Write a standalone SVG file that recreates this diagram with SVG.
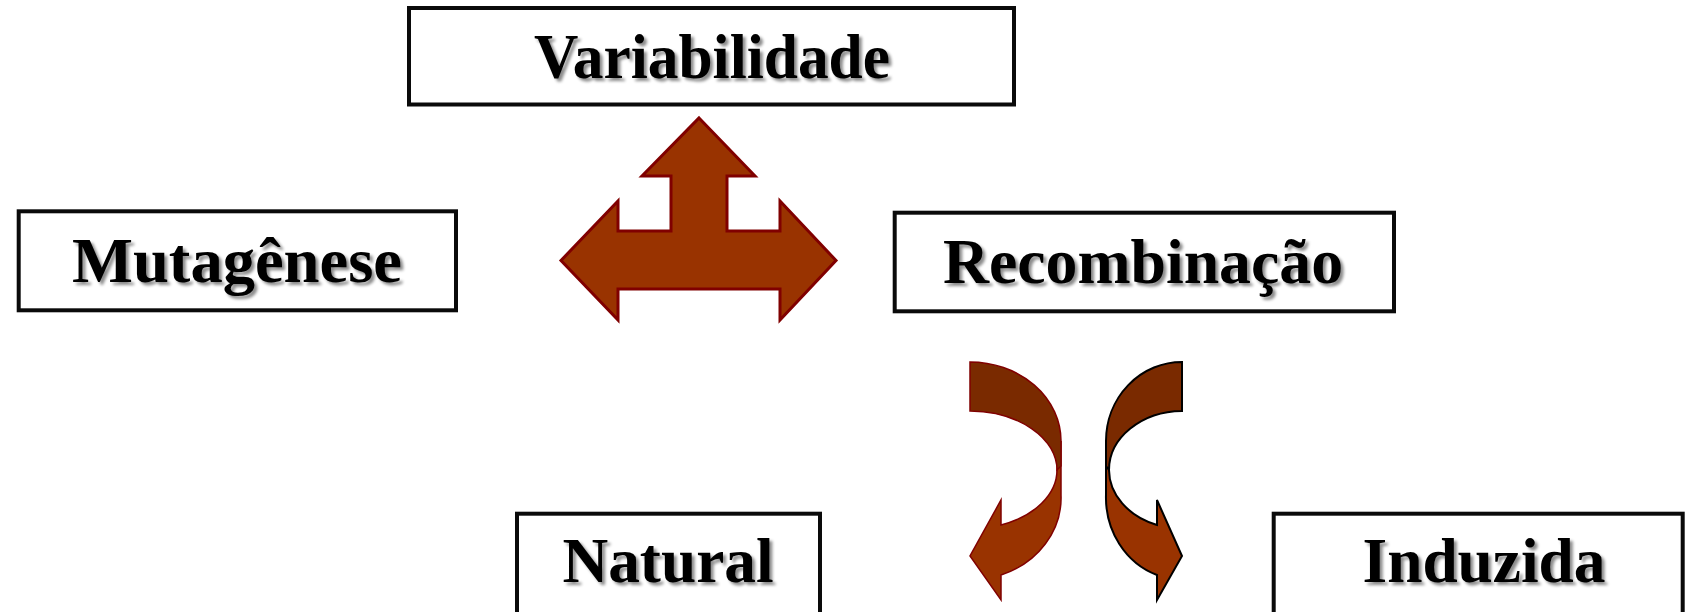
<svg xmlns="http://www.w3.org/2000/svg" width="1685" height="612" viewBox="0 0 1685 612">
  <defs>
    <filter id="txtShadow" x="-10%" y="-30%" width="120%" height="160%">
      <feDropShadow dx="3" dy="3" stdDeviation="1.6" flood-color="#000" flood-opacity="0.45"/>
    </filter>
  </defs>
  <style>
    .box { fill: #fff; stroke: #0a0a0a; stroke-width: 4; }
    .lbl { font-family: "Liberation Serif", "Times New Roman", serif; font-weight: bold; font-size: 63px; fill: #000; text-anchor: middle; filter: url(#txtShadow); }
    .tri { fill: #993300; stroke: #800000; stroke-width: 3; stroke-linejoin: miter; }
    .back { fill: #7a2a00; }
    .front { fill: #993300; }
    .curlL { stroke: #800000; stroke-width: 1.5; }
    .curlR { stroke: #000; stroke-width: 2; }
  </style>

  <g id="variabilidade">
    <rect class="box" x="409" y="8" width="605" height="96.5"/>
    <text class="lbl" x="712" y="78" textLength="356" lengthAdjust="spacingAndGlyphs">Variabilidade</text>
  </g>

  <g id="mutagenese">
    <rect class="box" x="18.7" y="211.3" width="437.3" height="99"/>
    <text class="lbl" x="237" y="282" textLength="330" lengthAdjust="spacingAndGlyphs">Mutagênese</text>
  </g>

  <g id="recombinacao">
    <rect class="box" x="894.7" y="212.7" width="499.3" height="98.6"/>
    <text class="lbl" x="1143" y="283" textLength="400" lengthAdjust="spacingAndGlyphs">Recombinação</text>
  </g>

  <g id="natural">
    <rect class="box" x="517" y="513.7" width="303" height="110"/>
    <text class="lbl" x="668" y="582" textLength="211" lengthAdjust="spacingAndGlyphs">Natural</text>
  </g>

  <g id="induzida">
    <rect class="box" x="1273.7" y="513.7" width="409" height="110"/>
    <text class="lbl" x="1484" y="582" textLength="243" lengthAdjust="spacingAndGlyphs">Induzida</text>
  </g>

  <g id="connectors">
    <!-- three-way arrow: up, left, right -->
    <path class="tri" d="M699,118 L755,176 L727,176 L727,231 L780,231 L780,201 L836,260.5 L780,320 L780,289 L618,289 L618,320 L561,260.5 L618,201 L618,231 L671,231 L671,176 L642,176 Z"/>

    <!-- curved arrow bending down to the left -->
    <path class="front curlL" d="M1061,441 L1061,495 A91,82 0 0 1 1001,575 L1001,600 L970,556 L1001,500 L1001,525 A88,59 0 0 0 1057,470 Z"/>
    <path class="back curlL" d="M970,362 A91,79 0 0 1 1061,441 L1061,466 L1057,470 A88,59 0 0 0 970,411 Z"/>

    <!-- curved arrow bending down to the right -->
    <path class="front curlR" d="M1106,441 L1106,495 A76,82 0 0 0 1157,575 L1157,600 L1182,556 L1157,500 L1157,525 A74,59 0 0 1 1109,470 Z"/>
    <path class="back curlR" d="M1182,362 A76,79 0 0 0 1106,441 L1106,466 L1109,470 A74,59 0 0 1 1182,411 Z"/>
  </g>
</svg>
